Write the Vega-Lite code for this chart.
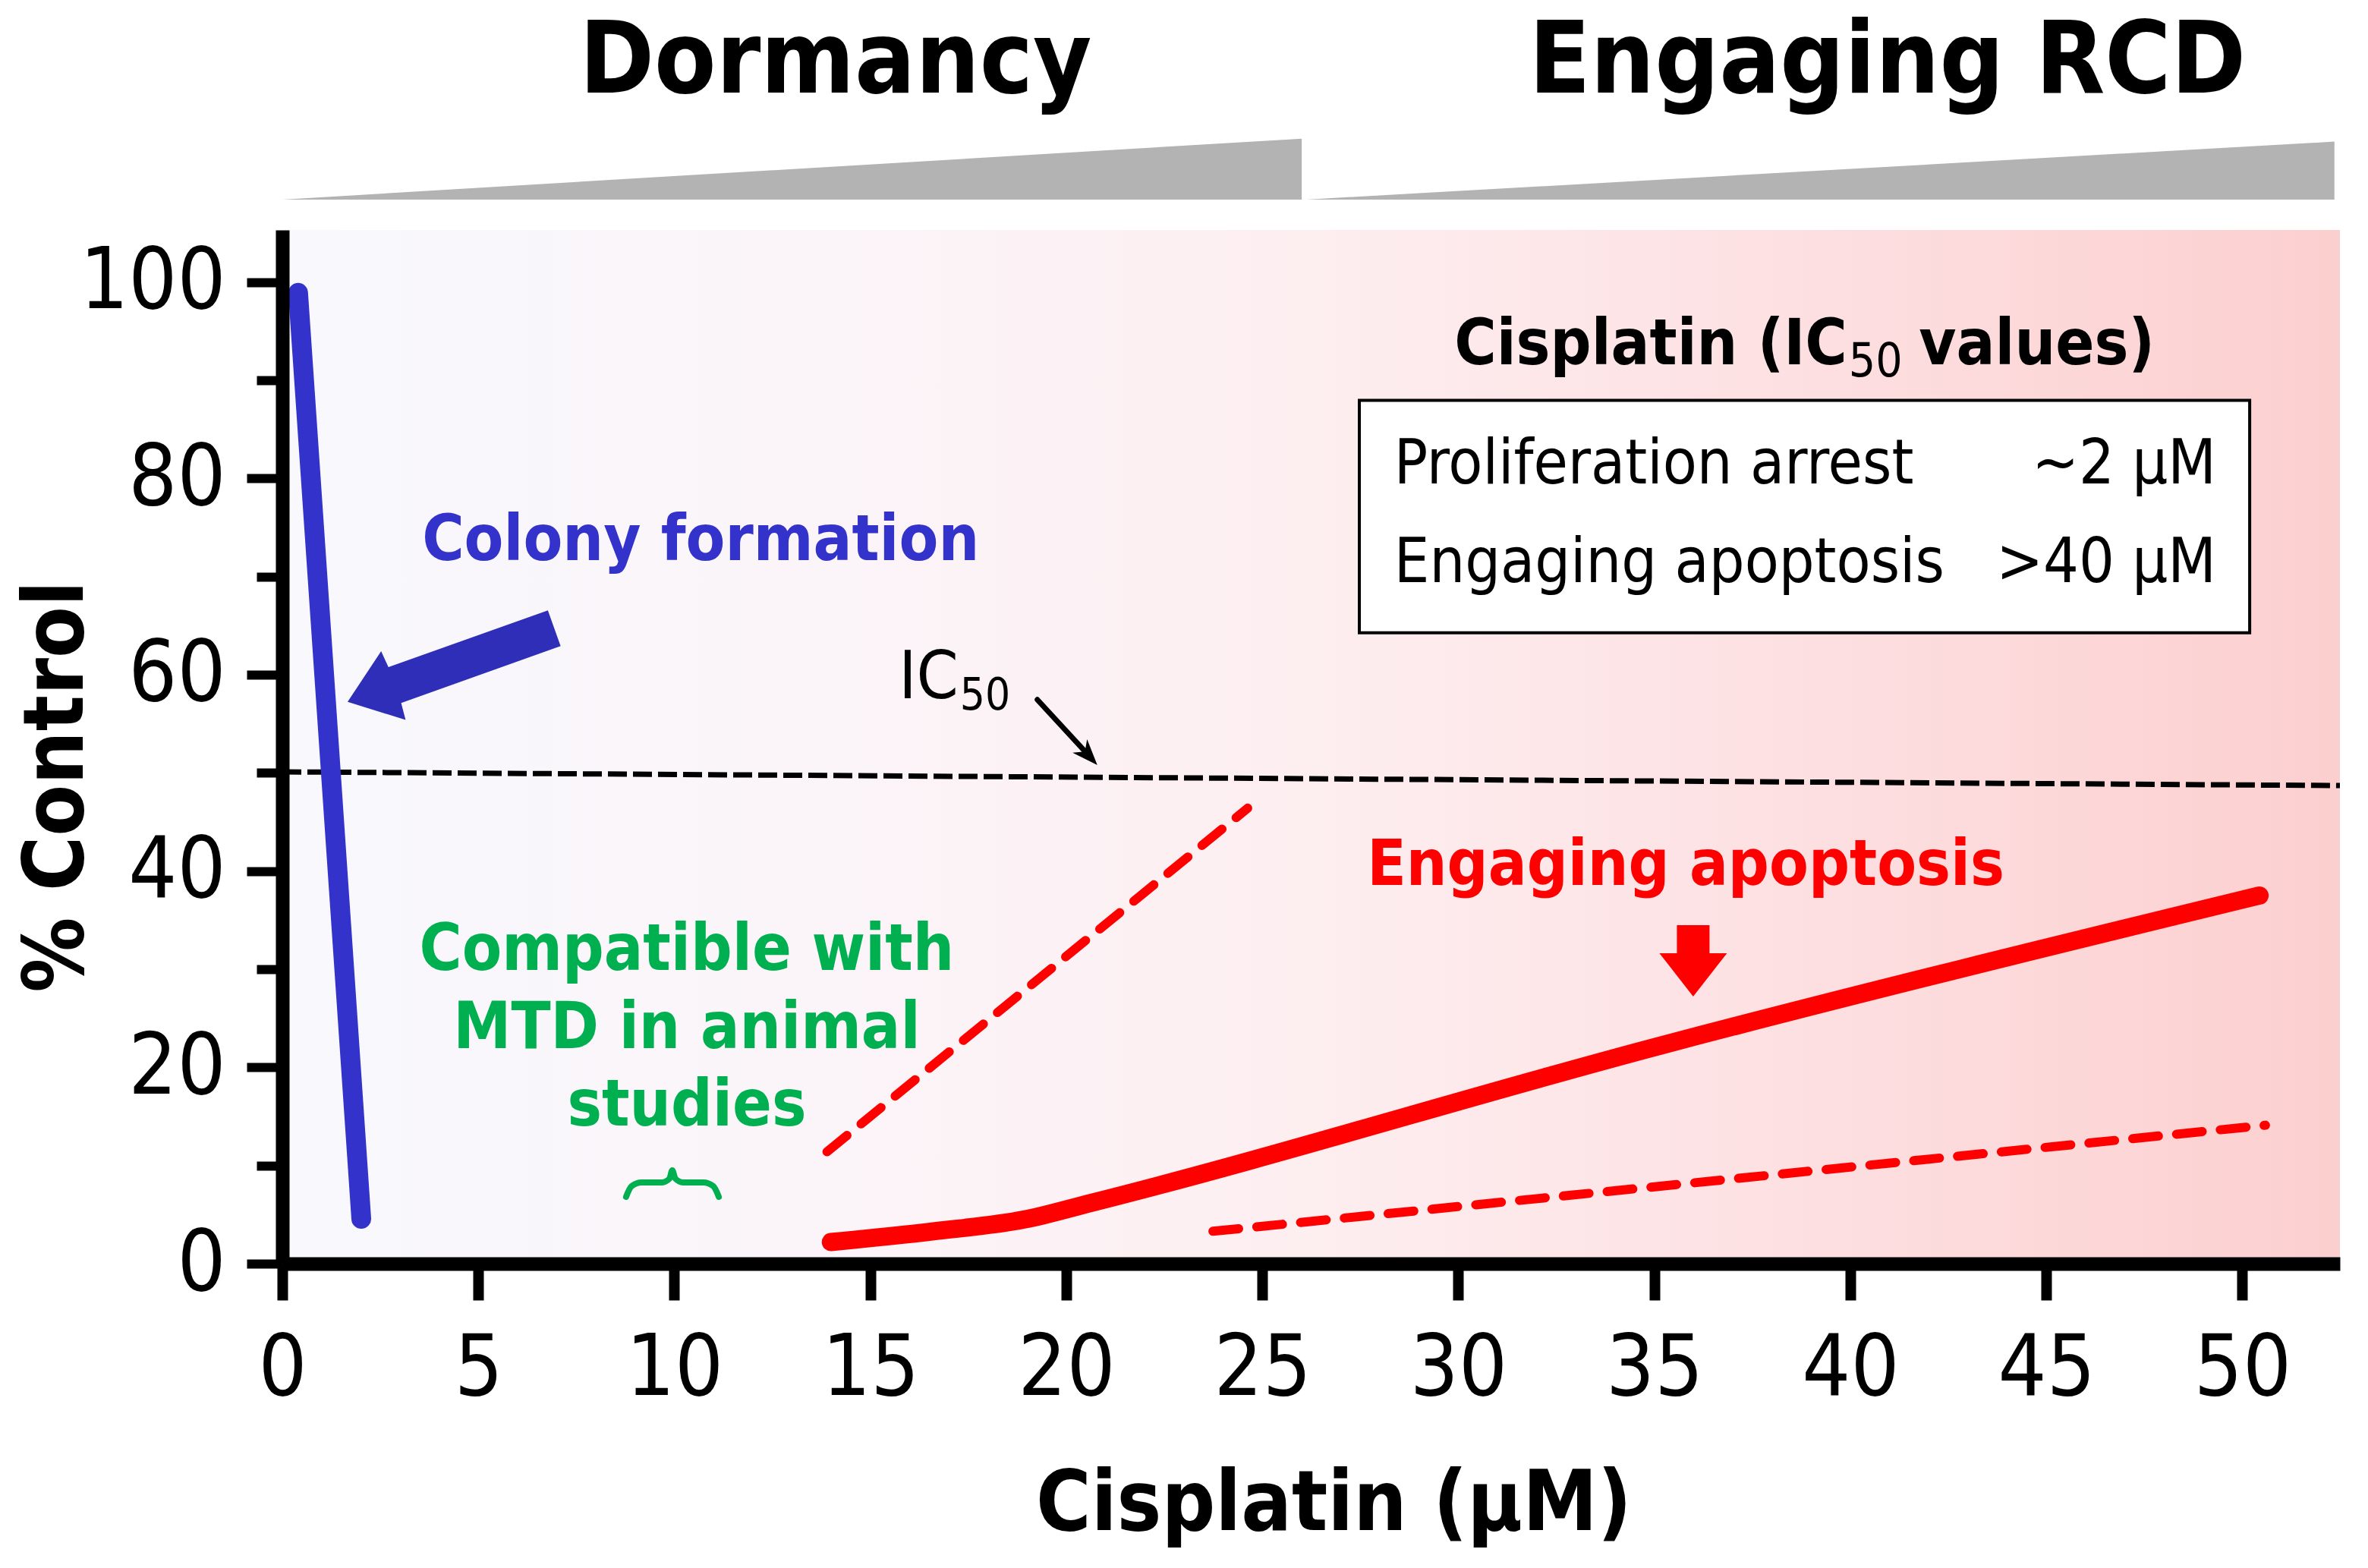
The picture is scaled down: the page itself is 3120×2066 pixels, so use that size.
{
  "$schema": "https://vega.github.io/schema/vega-lite/v6.json",
  "width": 2711,
  "height": 1362,
  "autosize": "none",
  "padding": {"left": 372, "top": 303, "right": 37, "bottom": 401},
  "background": "white",
  "config": {"view": {"stroke": null}, "font": "DejaVu Sans Condensed, DejaVu Sans"},
  "datasets": {
    "bg": [{"x": 0, "x2": 52.49, "y": 0, "y2": 105.3}],
    "wedges": [
      {"g": "a", "x": 0, "y": 108.4, "y2": 108.4},
      {"g": "a", "x": 26.005, "y": 114.6, "y2": 108.4},
      {"g": "b", "x": 26.116, "y": 108.4, "y2": 108.4},
      {"g": "b", "x": 52.35, "y": 114.3, "y2": 108.4}
    ],
    "ic50": [{"x": 0, "y": 50.1}, {"x": 52.49, "y": 48.7}],
    "redUpper": [{"x": 13.894, "y": 11.4}, {"x": 24.626, "y": 46.4}],
    "redLower": [{"x": 23.74, "y": 3.3}, {"x": 50.59, "y": 14.1}],
    "redSolid": [
      {"x": 13.994, "y": 2.2}, {"x": 16.612, "y": 3.3}, {"x": 18.927, "y": 4.5},
      {"x": 20.639, "y": 6.2}, {"x": 35.237, "y": 22.3}, {"x": 50.44, "y": 37.5}
    ],
    "blue": [{"x": 0.403, "y": 98.9}, {"x": 2.014, "y": 4.56}],
    "brace": [
      {"x": 8.769, "y": 6.81}, {"x": 8.910, "y": 7.89}, {"x": 9.162, "y": 8.28},
      {"x": 9.685, "y": 8.28}, {"x": 9.876, "y": 8.66}, {"x": 9.947, "y": 9.51},
      {"x": 10.027, "y": 8.66}, {"x": 10.219, "y": 8.28}, {"x": 10.742, "y": 8.28},
      {"x": 10.994, "y": 7.89}, {"x": 11.135, "y": 6.81}
    ],
    "icShaft": [{"x": 19.26, "y": 57.46}, {"x": 20.599, "y": 51.66}],
    "icHead": [{"x": 20.79, "y": 50.8}],
    "blueArrow": [{"x": 1.665, "y": 57.23}],
    "redArrow": [{"x": 35.992, "y": 27.22}],
    "box": [{"x": 27.475, "x2": 50.188, "y": 87.94, "y2": 64.27}],
    "phase": [{"x": 14.115, "y": 119.3, "t": "Dormancy"}, {"x": 40.946, "y": 119.3, "t": "Engaging RCD"}],
    "colony": [{"x": 10.672, "y": 71.7, "t": "Colony formation"}],
    "apop": [{"x": 35.801, "y": 38.6, "t": "Engaging apoptosis"}],
    "green": [
      {"x": 10.319, "y": 29.93, "t": "Compatible with"},
      {"x": 10.319, "y": 21.97, "t": "MTD in animal"},
      {"x": 10.319, "y": 14.08, "t": "studies"}
    ],
    "tTitleA": [{"x": 39.919, "y": 91.65, "t": "Cisplatin (IC"}],
    "tTitleSub": [{"x": 39.96, "y": 90.4, "t": "50"}],
    "tTitleB": [{"x": 41.75, "y": 91.65, "t": "values)"}],
    "rowLeft": [{"x": 28.361, "y": 79.5, "t": "Proliferation arrest"}, {"x": 28.361, "y": 69.45, "t": "Engaging apoptosis"}],
    "rowRight": [{"x": 49.332, "y": 79.5, "t": "~2 μM"}, {"x": 49.332, "y": 69.45, "t": ">40 μM"}],
    "icLabel": [{"x": 15.726, "y": 57.6, "t": "IC"}],
    "icSub": [{"x": 17.286, "y": 56.46, "t": "50"}]
  },
  "encoding": {
    "x": {
      "field": "x", "type": "quantitative",
      "scale": {"domain": [0, 52.49], "nice": false, "zero": false},
      "axis": {
        "values": [0, 5, 10, 15, 20, 25, 30, 35, 40, 45, 50],
        "grid": false, "zindex": 2,
        "domainColor": "black", "domainWidth": 18,
        "tickColor": "black", "tickWidth": 14, "tickSize": 48,
        "labelFontSize": 112, "labelColor": "black", "labelPadding": 36,
        "labelFlush": false, "labelOverlap": false, "labelLimit": 500,
        "title": "Cisplatin (μM)", "titleFontSize": 110, "titleFontWeight": "bold",
        "titleColor": "black", "titleX": 1385, "titleY": 350,
        "titleBaseline": "alphabetic", "titleAlign": "center"
      }
    },
    "y": {
      "field": "y", "type": "quantitative",
      "scale": {"domain": [0, 105.3], "nice": false, "zero": false},
      "axis": {
        "values": [0, 10, 20, 30, 40, 50, 60, 70, 80, 90, 100],
        "labelExpr": "datum.value % 20 === 0 ? datum.label : ''",
        "grid": false, "zindex": 2,
        "domainColor": "black", "domainWidth": 18,
        "tickColor": "black", "tickWidth": 12,
        "tickSize": {"condition": {"test": "datum.value % 20 !== 0", "value": 34}, "value": 47},
        "labelFontSize": 112, "labelColor": "black", "labelPadding": 28,
        "labelOverlap": false, "labelLimit": 500,
        "title": "% Control", "titleFontSize": 110, "titleFontWeight": "bold",
        "titleColor": "black", "titleAngle": 270, "titleX": -264, "titleY": 733,
        "titleBaseline": "alphabetic", "titleAlign": "center", "titleLimit": 2000
      }
    }
  },
  "layer": [
    {
      "data": {"name": "bg"},
      "mark": {"type": "rect", "clip": false, "color": {"gradient": "linear", "x1": 0, "x2": 1, "y1": 0, "y2": 0,
        "stops": [
          {"offset": 0, "color": "#f8f8fd"},
          {"offset": 0.25, "color": "#fbf5f9"},
          {"offset": 0.5, "color": "#fdeef0"},
          {"offset": 0.7, "color": "#fde2e4"},
          {"offset": 1, "color": "#fccfcf"}
        ]}},
      "encoding": {"x2": {"field": "x2"}, "y2": {"field": "y2"}}
    },
    {
      "data": {"name": "wedges"},
      "mark": {"type": "area", "clip": false, "color": "#b3b3b3"},
      "encoding": {"y2": {"field": "y2"}, "detail": {"field": "g"}}
    },
    {
      "data": {"name": "ic50"},
      "mark": {"type": "line", "clip": false, "color": "black", "strokeWidth": 7, "strokeDash": [25, 8]}
    },
    {
      "data": {"name": "redUpper"},
      "mark": {"type": "line", "clip": false, "color": "#ff0000", "strokeWidth": 12, "strokeDash": [34, 24], "strokeCap": "round"}
    },
    {
      "data": {"name": "redLower"},
      "mark": {"type": "line", "clip": false, "color": "#ff0000", "strokeWidth": 12, "strokeDash": [34, 24], "strokeCap": "round"}
    },
    {
      "data": {"name": "redSolid"},
      "mark": {"type": "line", "clip": false, "color": "#ff0000", "strokeWidth": 24, "strokeCap": "round", "strokeJoin": "round", "interpolate": "monotone"}
    },
    {
      "data": {"name": "blue"},
      "mark": {"type": "line", "clip": false, "color": "#3333cc", "strokeWidth": 26, "strokeCap": "round"}
    },
    {
      "data": {"name": "brace"},
      "mark": {"type": "line", "clip": false, "color": "#00b050", "strokeWidth": 8, "strokeCap": "round", "strokeJoin": "round", "interpolate": "monotone"}
    },
    {
      "data": {"name": "icShaft"},
      "mark": {"type": "line", "clip": false, "color": "black", "strokeWidth": 7, "strokeCap": "round"}
    },
    {
      "data": {"name": "icHead"},
      "mark": {"type": "point", "clip": false, "filled": true, "color": "black", "opacity": 1, "size": 400, "angle": 47.4,
        "shape": "M0,0 L-3.4,-1.3 L-2.4,0 L-3.4,1.3 Z"}
    },
    {
      "data": {"name": "blueArrow"},
      "mark": {"type": "point", "clip": false, "filled": true, "color": "#2e2eb8", "opacity": 1, "size": 400, "angle": 160.4,
        "shape": "M0,0 L-6.4,-4.8 L-6.6,-2.5 L-28.9,-2.5 L-28.9,2.5 L-6.6,2.5 L-6.4,4.8 Z"}
    },
    {
      "data": {"name": "redArrow"},
      "mark": {"type": "point", "clip": false, "filled": true, "color": "#ff0000", "opacity": 1, "size": 400, "angle": 90,
        "shape": "M0,0 L-5.7,-4.45 L-5.7,-2.15 L-9.4,-2.15 L-9.4,2.15 L-5.7,2.15 L-5.7,4.45 Z"}
    },
    {
      "data": {"name": "box"},
      "mark": {"type": "rect", "clip": false, "fill": "white", "stroke": "black", "strokeWidth": 4},
      "encoding": {"x2": {"field": "x2"}, "y2": {"field": "y2"}}
    },
    {
      "data": {"name": "phase"},
      "mark": {"type": "text", "clip": false, "fontSize": 132, "fontWeight": "bold", "color": "black", "align": "center", "baseline": "alphabetic"},
      "encoding": {"text": {"field": "t"}}
    },
    {
      "data": {"name": "colony"},
      "mark": {"type": "text", "clip": false, "fontSize": 84, "fontWeight": "bold", "color": "#3333cc", "align": "center", "baseline": "alphabetic"},
      "encoding": {"text": {"field": "t"}}
    },
    {
      "data": {"name": "apop"},
      "mark": {"type": "text", "clip": false, "fontSize": 84, "fontWeight": "bold", "color": "#ff0000", "align": "center", "baseline": "alphabetic"},
      "encoding": {"text": {"field": "t"}}
    },
    {
      "data": {"name": "green"},
      "mark": {"type": "text", "clip": false, "fontSize": 85, "fontWeight": "bold", "color": "#00b050", "align": "center", "baseline": "alphabetic"},
      "encoding": {"text": {"field": "t"}}
    },
    {
      "data": {"name": "tTitleA"},
      "mark": {"type": "text", "clip": false, "fontSize": 84, "fontWeight": "bold", "color": "black", "align": "right", "baseline": "alphabetic"},
      "encoding": {"text": {"field": "t"}}
    },
    {
      "data": {"name": "tTitleSub"},
      "mark": {"type": "text", "clip": false, "fontSize": 62, "color": "black", "align": "left", "baseline": "alphabetic"},
      "encoding": {"text": {"field": "t"}}
    },
    {
      "data": {"name": "tTitleB"},
      "mark": {"type": "text", "clip": false, "fontSize": 84, "fontWeight": "bold", "color": "black", "align": "left", "baseline": "alphabetic"},
      "encoding": {"text": {"field": "t"}}
    },
    {
      "data": {"name": "rowLeft"},
      "mark": {"type": "text", "clip": false, "fontSize": 82, "color": "black", "align": "left", "baseline": "alphabetic"},
      "encoding": {"text": {"field": "t"}}
    },
    {
      "data": {"name": "rowRight"},
      "mark": {"type": "text", "clip": false, "fontSize": 82, "color": "black", "align": "right", "baseline": "alphabetic"},
      "encoding": {"text": {"field": "t"}}
    },
    {
      "data": {"name": "icLabel"},
      "mark": {"type": "text", "clip": false, "fontSize": 88, "color": "black", "align": "left", "baseline": "alphabetic"},
      "encoding": {"text": {"field": "t"}}
    },
    {
      "data": {"name": "icSub"},
      "mark": {"type": "text", "clip": false, "fontSize": 58, "color": "black", "align": "left", "baseline": "alphabetic"},
      "encoding": {"text": {"field": "t"}}
    }
  ]
}
